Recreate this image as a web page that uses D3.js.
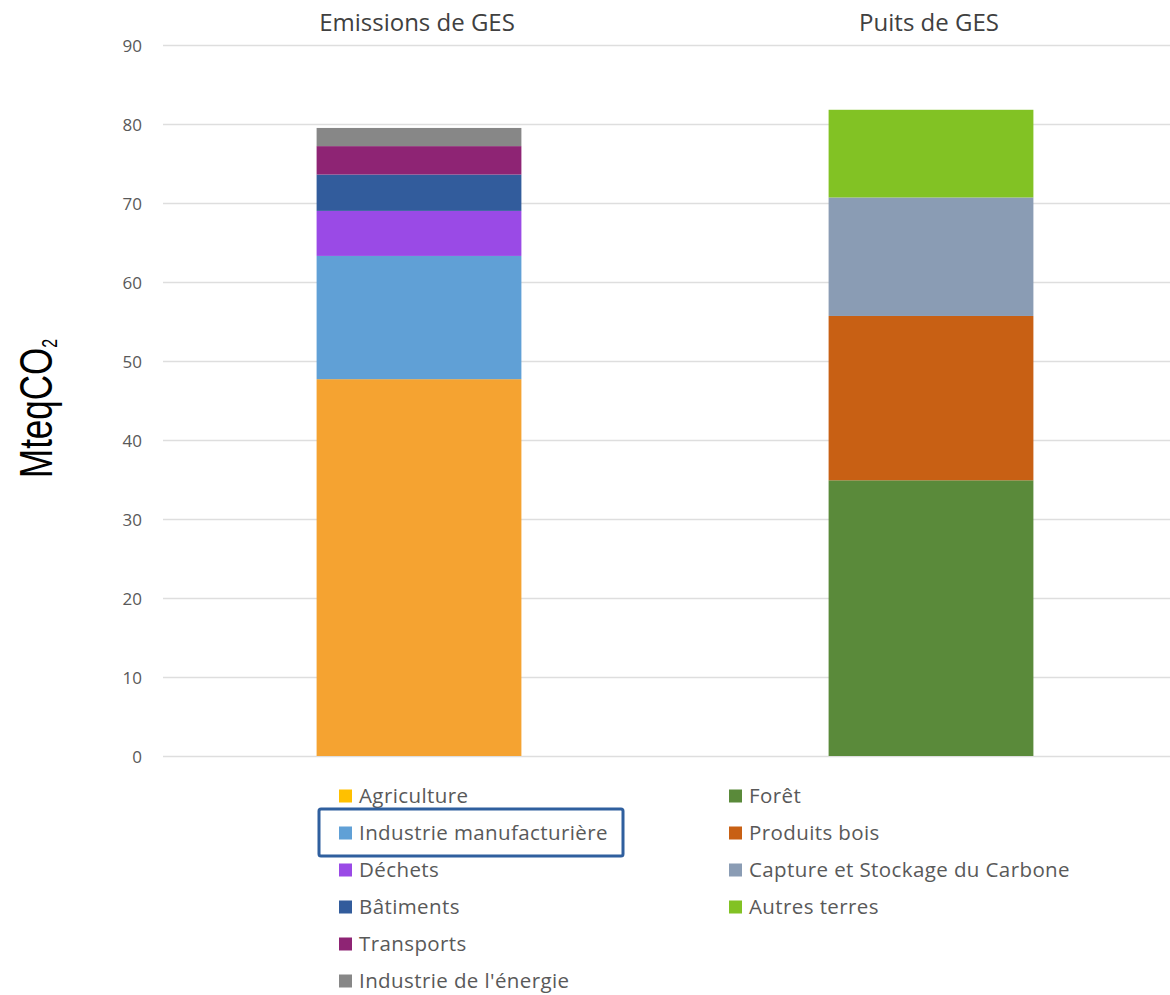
<!DOCTYPE html>
<html>
<head>
<meta charset="utf-8">
<script src="https://cdn.jsdelivr.net/npm/d3@7"></script>
<style>
  body { margin: 0; background: #fff; }
  svg { display: block; }
  .tick text { font-family: "Open Sans", sans-serif; font-size: 17px; fill: #595959; }
  .grid line { stroke: #dedede; stroke-width: 1.5; }
</style>
</head>
<body>
<div class="chart"></div>
<script>
const groups = ["Emissions de GES", "Puits de GES"]

const emissionCats = ["Agriculture", "Industrie manufacturière", "Déchets", "Bâtiments", "Transports", "Industrie de l'énergie"]
const emissionValues = [47.7, 15.6, 5.7, 4.6, 3.6, 2.3]

const sinkCats = ["Forêt", "Produits bois", "Capture et Stockage du Carbone", "Autres terres"]
const sinkValues = [34.9, 20.8, 15.0, 11.1]

const yTicks = [0, 10, 20, 30, 40, 50, 60, 70, 80, 90]

// colours
const emissionColors = ["#f5a331", "#60a0d6", "#9a4ae6", "#325c9c", "#8e2474", "#878787"]
const emissionLegendColors = ["#ffc000", "#60a0d6", "#9a4ae6", "#325c9c", "#8e2474", "#878787"]
const sinkColors = ["#5a8a3a", "#c86014", "#8a9cb4", "#82c224"]

const W = 1170, H = 995
const margin = {top: 45, left: 163, bottom: 239}
const plotW = 1024
const plotH = H - margin.top - margin.bottom

const svg = d3.select(".chart").append("svg").attr("width", W).attr("height", H)
const g = svg.append("g").attr("transform", `translate(${margin.left},${margin.top})`)

const x = d3.scaleBand().domain(groups).range([0, plotW]).paddingInner(0.6).paddingOuter(0.3)
const y = d3.scaleLinear().domain([0, 90]).range([plotH, 0])

g.append("g").attr("class", "grid")
  .call(d3.axisLeft(y).tickValues(yTicks).tickSize(-plotW).tickPadding(21))
  .call(a => a.select(".domain").remove())
  .selectAll("text").attr("dy", "0.36em")

// stacks
const stacks = [
  {group: groups[0], values: emissionValues, colors: emissionColors},
  {group: groups[1], values: sinkValues, colors: sinkColors}
]
stacks.forEach(s => {
  const ends = d3.cumsum(s.values)
  g.selectAll(null).data(s.values).enter().append("rect")
    .attr("x", x(s.group))
    .attr("width", x.bandwidth())
    .attr("y", (d, i) => y(ends[i]))
    .attr("height", (d, i) => y(ends[i] - d) - y(ends[i]))
    .attr("fill", (d, i) => s.colors[i])
})

// group titles on top
g.selectAll(".gtitle").data(groups).enter().append("text")
  .attr("x", d => x(d) + x.bandwidth() / 2 - 2)
  .attr("y", -14)
  .attr("text-anchor", "middle")
  .style("font-family", "Open Sans, sans-serif").style("font-size", "24px").style("fill", "#404040")
  .text(d => d)

// y label
const yl = svg.append("text")
  .attr("transform", "translate(52,478) rotate(-90) scale(1,1.33)")
  .style("font-family", "Liberation Sans, Arial, sans-serif").style("font-size", "35px").style("fill", "#000")
yl.append("tspan").text("MteqCO")
yl.append("tspan").attr("dy", 4).style("font-size", "16px").text("2")

// legend
const legend = svg.append("g").attr("transform", "translate(0,796)")
const cols = [
  {x: 339, cats: emissionCats, colors: emissionLegendColors},
  {x: 729, cats: sinkCats, colors: sinkColors}
]
cols.forEach(c => {
  const item = legend.selectAll(null).data(c.cats).enter().append("g")
    .attr("transform", (d, i) => `translate(${c.x},${i * 37})`)
  item.append("rect").attr("x", 0).attr("y", -6.5).attr("width", 13).attr("height", 13)
    .attr("fill", (d, i) => c.colors[i])
  item.append("text").attr("x", 20).attr("y", 0).attr("dy", "0.35em")
    .style("font-family", "Open Sans, sans-serif").style("font-size", "20.5px")
    .style("letter-spacing", "0.4px").style("fill", "#595959")
    .text(d => d)
})

// highlight box round "Industrie manufacturière"
svg.append("rect").attr("x", 319).attr("y", 809).attr("width", 304).attr("height", 47)
  .attr("rx", 2).attr("fill", "none").attr("stroke", "#2f5f9e").attr("stroke-width", 3)
</script>
</body>
</html>
